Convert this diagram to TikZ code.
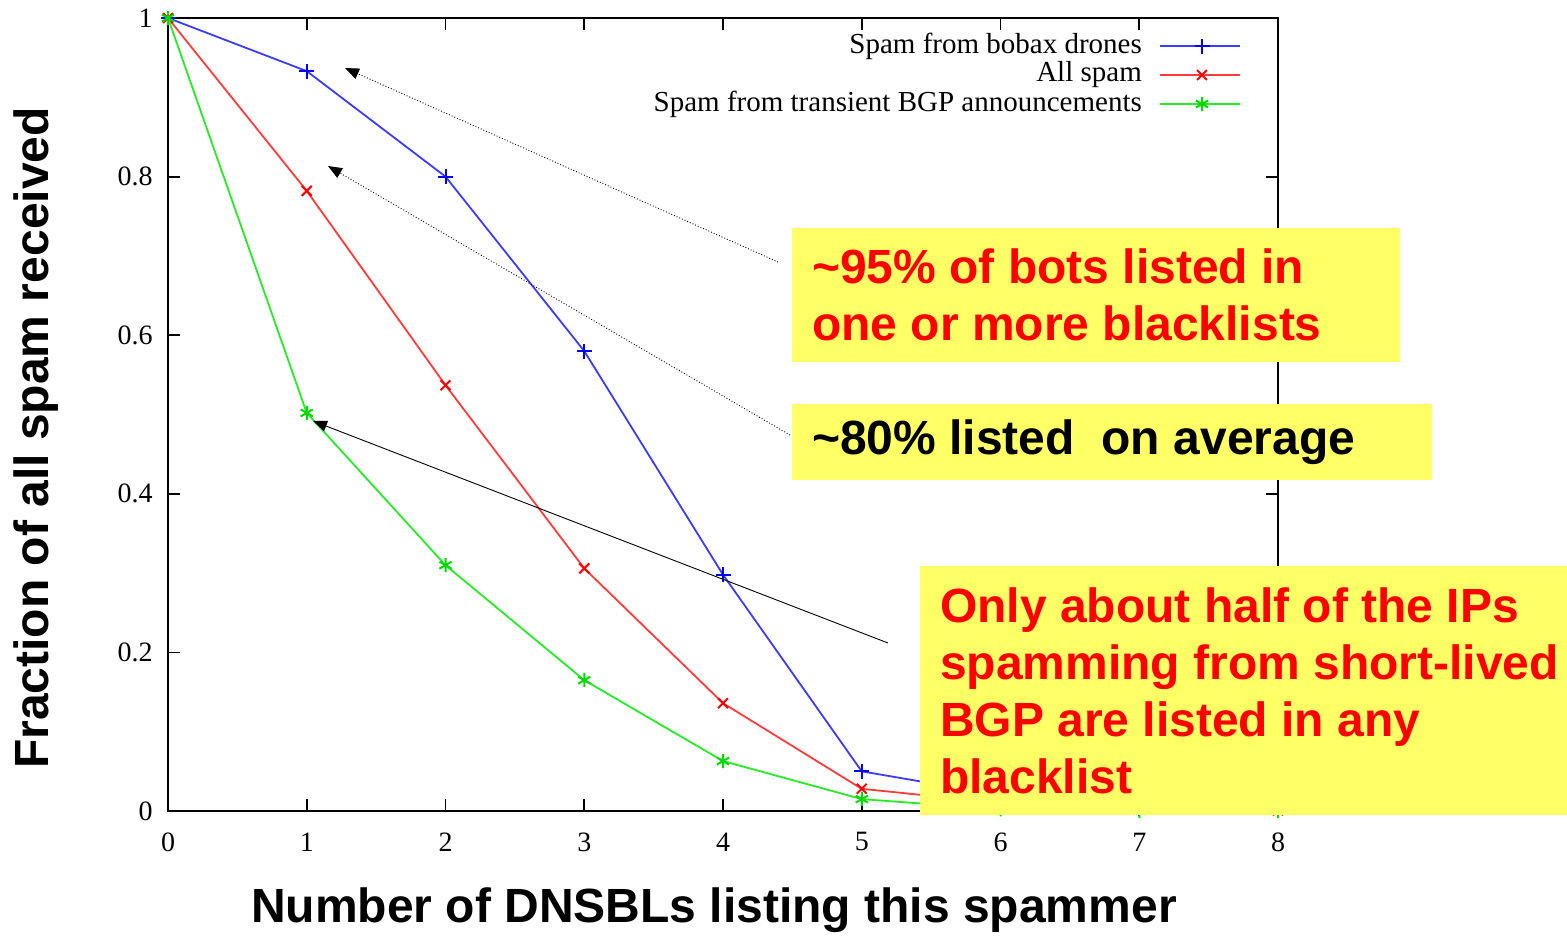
\documentclass[tikz,border=0pt]{standalone}
\usepackage{fontspec}
\setmainfont{Liberation Serif}
\newfontfamily\annfont{Liberation Sans}
\usetikzlibrary{arrows.meta,plotmarks}
\definecolor{notey}{RGB}{255,255,102}
\definecolor{cblue}{RGB}{60,60,255}
\definecolor{cred}{RGB}{255,60,60}
\definecolor{cgreen}{RGB}{40,235,40}
\tikzset{
  notebox/.style={fill=notey, anchor=north west, inner sep=0pt},
  notetext/.style={anchor=west, inner sep=0pt, align=left,
    font=\annfont\bfseries\fontsize{48}{57}\selectfont},
  ticklab/.style={font=\fontsize{28}{30}\selectfont, inner sep=0pt},
  legtext/.style={font=\fontsize{29}{31}\selectfont, inner sep=0pt, anchor=east},
  axtitle/.style={font=\annfont\bfseries\fontsize{48}{52}\selectfont, inner sep=0pt},
  ptr/.style={-{Triangle[length=14pt,width=11pt]}, line width=0.9pt},
  curve/.style={line width=1.8pt},
  bmark/.style={mark=+, mark size=7.5pt, mark options={line width=2pt, color=blue, solid}},
  rmark/.style={mark=x, mark size=7pt, mark options={line width=2pt, color=red, solid}},
  gmark/.style={mark=asterisk, mark size=7pt, mark options={line width=2pt, color=green!85!black, solid}}
}
\begin{document}
\begin{tikzpicture}[x=1pt,y=-1pt]
\useasboundingbox (0,0) rectangle (1567,937);
\fill[white] (0,0) rectangle (1567,937);
% plot frame and data
\begin{scope}[shift={(168,811)}, x=138.75pt, y=793pt]
  \draw[line width=1.8pt] (0,0) rectangle (8,1);
  \foreach \i in {1,...,7} {
    \draw[line width=1.8pt] (\i,0) -- ++(0,0.015);
    \draw[line width=1.8pt] (\i,1) -- ++(0,-0.015);
  }
  \foreach \j in {0.2,0.4,0.6,0.8} {
    \draw[line width=1.8pt] (0,\j) -- ++(0.085,0);
    \draw[line width=1.8pt] (8,\j) -- ++(-0.085,0);
  }
  \foreach \i in {0,...,8} \node[ticklab] (xl\i) at (\i,-0.039) {\i};
  \node[ticklab, anchor=east] (yl0) at (-0.11,0) {0};
  \node[ticklab, anchor=east] (yl2) at (-0.11,0.2) {0.2};
  \node[ticklab, anchor=east] (yl4) at (-0.11,0.4) {0.4};
  \node[ticklab, anchor=east] (yl6) at (-0.11,0.6) {0.6};
  \node[ticklab, anchor=east] (yl8) at (-0.11,0.8) {0.8};
  \node[ticklab, anchor=east] (yl10) at (-0.11,1) {1};
  \draw[curve, cblue, bmark]
    plot coordinates {(0,1) (1,0.933) (2,0.8) (3,0.58) (4,0.298) (5,0.05) (6,0.02) (7,0.003) (8,0.001)};
  \draw[curve, cred, rmark]
    plot coordinates {(0,1) (1,0.782) (2,0.537) (3,0.306) (4,0.136) (5,0.028) (6,0.01) (7,0.002) (8,0.001)};
  \draw[curve, cgreen, gmark]
    plot coordinates {(0,1) (1,0.502) (2,0.31) (3,0.165) (4,0.063) (5,0.015) (6,0.002) (7,0.0) (8,0.0)};
\end{scope}
% legend
\node[legtext] (lg1) at (1142,46) {Spam from bobax drones};
\node[legtext] (lg2) at (1142,75) {All spam};
\node[legtext] (lg3) at (1142,104) {Spam from transient BGP announcements};
\draw[curve, cblue] (1160,46) -- (1240,46);
\draw[curve, cred] (1160,75) -- (1240,75);
\draw[curve, cgreen] (1160,104) -- (1240,104);
\draw[bmark] plot coordinates {(1202,46)};
\draw[rmark] plot coordinates {(1202,75)};
\draw[gmark] plot coordinates {(1202,104)};
% axis titles
\node[axtitle, rotate=90] (ytitle) at (36,438) {Fraction of all spam received};
\node[axtitle] (xtitle) at (714,910) {Number of DNSBLs listing this spammer};
% annotation boxes
\node[notebox, minimum width=608pt, minimum height=134pt] (b1) at (792,228) {};
\node[notetext, text=red] (t1) at ([xshift=20pt]b1.west)
  {\textasciitilde95\% of bots listed in\\one or more blacklists};
\node[notebox, minimum width=640pt, minimum height=76pt] (b2) at (792,404) {};
\node[notetext] (t2) at ([xshift=20pt]b2.west)
  {\textasciitilde80\% listed\ \ on average};
\node[notebox, minimum width=647pt, minimum height=249pt] (b3) at (920,566) {};
\node[notetext, text=red] (t3) at ([xshift=20pt]b3.west)
  {Only about half of the IPs\\spamming from short-lived\\BGP are listed in any\\blacklist};
% pointers
\coordinate (p1s) at (778,262);
\coordinate (p1e) at (345,68);
\coordinate (p2s) at (790,435);
\coordinate (p2e) at (328,166);
\coordinate (p3s) at (888,643);
\coordinate (p3e) at (313,421);
\draw[ptr, dotted] (p1s) -- (p1e);
\draw[ptr, dotted] (p2s) -- (p2e);
\draw[ptr] (p3s) -- (p3e);
\end{tikzpicture}
\end{document}
